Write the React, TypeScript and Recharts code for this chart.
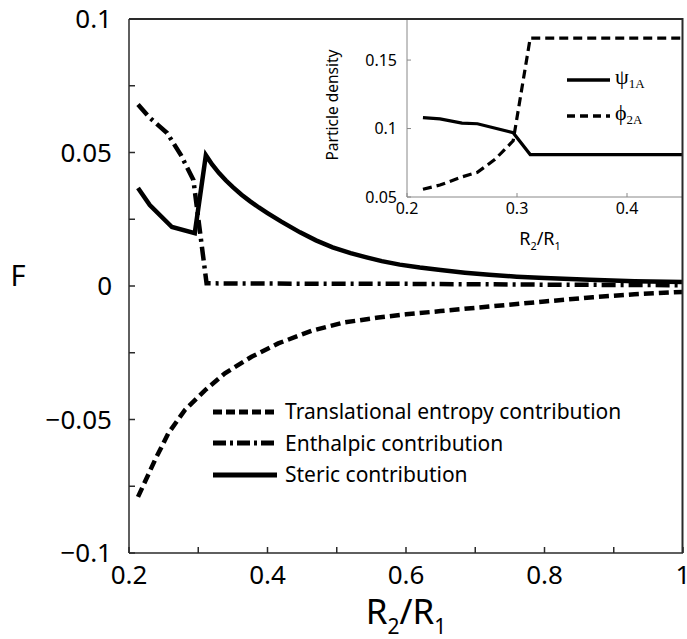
import { LineChart, Line, XAxis, YAxis, Legend, Label } from 'recharts'

// main panel: free energy contributions vs R2/R1
const transX = [0.213, 0.2375, 0.2567, 0.2808, 0.31, 0.3385, 0.377, 0.4155, 0.4636, 0.51, 0.56, 0.6, 0.65, 0.72, 0.8, 0.87, 0.93, 1.0]
const transF = [-0.079, -0.0652, -0.0552, -0.0464, -0.039, -0.0327, -0.0265, -0.0215, -0.0168, -0.0137, -0.0118, -0.0106, -0.0094, -0.0077, -0.0058, -0.0042, -0.0031, -0.0022]

const enthX = [0.213, 0.23, 0.255, 0.275, 0.293, 0.312, 0.4, 0.6, 0.8, 1.0]
const enthF = [0.068, 0.063, 0.0573, 0.049, 0.0397, 0.001, 0.0009, 0.0008, 0.0005, 0.0003]

const sterX = [0.213, 0.23, 0.262, 0.295, 0.311, 0.32, 0.33, 0.34, 0.35, 0.3625, 0.375, 0.3875, 0.4, 0.42, 0.447, 0.47, 0.494, 0.52, 0.543, 0.565, 0.591, 0.62, 0.65, 0.685, 0.72, 0.76, 0.8, 0.865, 0.93, 1.0]
const sterF = [0.0367, 0.0303, 0.0221, 0.0198, 0.049, 0.0455, 0.0423, 0.0395, 0.037, 0.0342, 0.0317, 0.0294, 0.0273, 0.0241, 0.0201, 0.0171, 0.0145, 0.0123, 0.0107, 0.0093, 0.008, 0.0069, 0.006, 0.005, 0.0042, 0.0035, 0.003, 0.0023, 0.0018, 0.0015]

const mainXTicks = [0.2, 0.3, 0.4, 0.5, 0.6, 0.7, 0.8, 0.9, 1.0]
const mainXLabels = ['0.2', '', '0.4', '', '0.6', '', '0.8', '', '1']
const mainYTicks = [-0.1, -0.075, -0.05, -0.025, 0, 0.025, 0.05, 0.075, 0.1]
const mainYLabels = ['\u22120.1', '', '\u22120.05', '', '0', '', '0.05', '', '0.1']

// inset: particle densities
const psiX = [0.2145, 0.23, 0.25, 0.264, 0.2965, 0.312, 0.45]
const psiD = [0.108, 0.107, 0.104, 0.1035, 0.097, 0.081, 0.081]
const phiX = [0.2145, 0.23, 0.25, 0.264, 0.28, 0.2965, 0.312, 0.45]
const phiD = [0.0557, 0.0587, 0.0647, 0.068, 0.0775, 0.091, 0.166, 0.166]

const insetXTicks = [0.2, 0.3, 0.4]
const insetYTicks = [0.05, 0.1, 0.15]
const insetYLabels = ['0.05', '0.1', '0.15']

const legendNames = ['Translational entropy contribution', 'Enthalpic contribution', 'Steric contribution']
const legendDash = ['9 4', '13 4 3 4', '']

const zip = (xs: number[], ys: number[]) => xs.map((x, i) => ({ x, y: ys[i] }))

const FONT = '"Noto Sans", sans-serif'
const AXIS = '#2a2a2a'

function SubText({ x, y, size, parts, anchor = 'middle' }: { x: number; y: number; size: number; parts: [string, string][]; anchor?: string }) {
  return (
    <text x={x} y={y} textAnchor={anchor} fontFamily={FONT} fontSize={size} fill="#000">
      {parts.map(([big, sub], i) => (
        <tspan key={i}>
          <tspan dy={i === 0 ? 0 : -size * 0.28}>{big}</tspan>
          {sub && <tspan fontSize={size * 0.6} dy={size * 0.28}>{sub}</tspan>}
        </tspan>
      ))}
    </text>
  )
}

function MainLegend() {
  return (
    <div style={{ fontFamily: FONT, fontSize: 21, lineHeight: '31.5px', color: '#000' }}>
      {legendNames.map((name, i) => (
        <div key={name} style={{ display: 'flex', alignItems: 'center' }}>
          <svg width={76} height={12}>
            <line x1={4} y1={6} x2={68} y2={6} stroke="#000" strokeWidth={5} strokeDasharray={legendDash[i] || undefined} />
          </svg>
          <span style={{ color: '#000' }}>{name}</span>
        </div>
      ))}
    </div>
  )
}

function InsetLegend() {
  const rows = [
    { sym: '\u03C8', sub: '1A', dash: '' },
    { sym: '\u03D5', sub: '2A', dash: '8 5' },
  ]
  return (
    <div style={{ fontFamily: '"Liberation Serif", serif', fontSize: 22, lineHeight: '29px', color: '#000' }}>
      {rows.map((r) => (
        <div key={r.sub} style={{ display: 'flex', alignItems: 'center' }}>
          <svg width={48} height={10}>
            <line x1={0} y1={5} x2={43} y2={5} stroke="#000" strokeWidth={3.5} strokeDasharray={r.dash || undefined} />
          </svg>
          <span style={{ color: '#000' }}>
            {r.sym}
            <sub style={{ fontSize: 13, verticalAlign: '-4px', color: '#000' }}>{r.sub}</sub>
          </span>
        </div>
      ))}
    </div>
  )
}

export default function App() {
  return (
    <div style={{ position: 'absolute', left: 0, top: 0, width: 687, height: 639, background: '#fff' }}>
      <LineChart width={687} height={639} margin={{ top: 19, right: 4, bottom: 26, left: 29 }} style={{ position: 'absolute', left: 0, top: 0 }}>
        <XAxis
          type="number"
          dataKey="x"
          domain={[0.2, 1]}
          ticks={mainXTicks}
          tickFormatter={(v: number) => mainXLabels[mainXTicks.findIndex((t) => Math.abs(t - v) < 1e-6)] ?? ''}
          allowDataOverflow
          height={60}
          tickSize={-6}
          tickMargin={19}
          stroke={AXIS}
          strokeWidth={1.5}
          tick={{ fill: '#000', fontSize: 26, fontFamily: FONT }}
          interval={0}
        >
          <Label
            content={() => <SubText x={406} y={624} size={35} parts={[['R', '2'], ['/R', '1']]} />}
          />
        </XAxis>
        <YAxis
          type="number"
          dataKey="y"
          domain={[-0.1, 0.1]}
          ticks={mainYTicks}
          tickFormatter={(v: number) => mainYLabels[mainYTicks.findIndex((t) => Math.abs(t - v) < 1e-6)] ?? ''}
          allowDataOverflow
          width={100}
          tickSize={-6}
          tickMargin={23}
          stroke={AXIS}
          strokeWidth={1.5}
          tick={{ fill: '#000', fontSize: 26, fontFamily: FONT }}
          interval={0}
        >
          <Label
            content={() => (
              <text x={18} y={286} textAnchor="middle" fontFamily={FONT} fontSize={29} fill="#000">F</text>
            )}
          />
        </YAxis>
        <Line data={zip(transX, transF)} dataKey="y" type="linear" stroke="#000" strokeWidth={4.5} strokeDasharray="10 5" dot={false} isAnimationActive={false} />
        <Line data={zip(enthX, enthF)} dataKey="y" type="linear" stroke="#000" strokeWidth={4.5} strokeDasharray="14 5 3 5" dot={false} isAnimationActive={false} />
        <Line data={zip(sterX, sterF)} dataKey="y" type="linear" stroke="#000" strokeWidth={4.5} dot={false} isAnimationActive={false} />
        <Legend
          layout="vertical"
          verticalAlign="middle"
          align="center"
          content={() => <MainLegend />}
          wrapperStyle={{ position: 'absolute', left: 209, top: 396, width: 470 }}
        />
      </LineChart>

      <LineChart width={387} height={260} margin={{ top: 19, right: 5, bottom: 33, left: 47 }} style={{ position: 'absolute', left: 300, top: 0 }}>
        <XAxis
          type="number"
          dataKey="x"
          domain={[0.2, 0.45]}
          ticks={insetXTicks}
          tickFormatter={(v: number) => String(v)}
          allowDataOverflow
          height={30}
          tickSize={-4}
          tickMargin={10}
          stroke="#888"
          tick={{ fill: '#000', fontSize: 16, fontFamily: FONT }}
          interval={0}
        >
          <Label content={() => <SubText x={240} y={245} size={18} parts={[['R', '2'], ['/R', '1']]} />} />
        </XAxis>
        <YAxis
          type="number"
          dataKey="y"
          domain={[0.05, 0.18]}
          ticks={insetYTicks}
          tickFormatter={(v: number) => insetYLabels[insetYTicks.findIndex((t) => Math.abs(t - v) < 1e-6)] ?? ''}
          allowDataOverflow
          width={60}
          tickSize={-4}
          tickMargin={14}
          stroke="#888"
          tick={{ fill: '#000', fontSize: 16, fontFamily: FONT }}
          interval={0}
        >
          <Label
            content={() => (
              <text x={32} y={105} transform="rotate(-90 32 105)" textAnchor="middle" dominantBaseline="central" fontFamily={FONT} fontSize={15.5} fill="#000">
                Particle density
              </text>
            )}
          />
        </YAxis>
        <Line data={zip(psiX, psiD)} dataKey="y" type="linear" stroke="#000" strokeWidth={3.2} dot={false} isAnimationActive={false} />
        <Line data={zip(phiX, phiD)} dataKey="y" type="linear" stroke="#000" strokeWidth={3.2} strokeDasharray="9 5" dot={false} isAnimationActive={false} />
        <Legend
          layout="vertical"
          verticalAlign="middle"
          align="center"
          content={() => <InsetLegend />}
          wrapperStyle={{ position: 'absolute', left: 267, top: 62, width: 110 }}
        />
      </LineChart>
      {/* plot frame, top and right edges, drawn on top */}
      <svg width={687} height={639} style={{ position: 'absolute', left: 0, top: 0, pointerEvents: 'none', zIndex: 5 }}>
        <rect x={129} y={18} width={554} height={2} fill={AXIS} />
        <rect x={681.5} y={18} width={2} height={535} fill={AXIS} />
      </svg>
    </div>
  )
}
